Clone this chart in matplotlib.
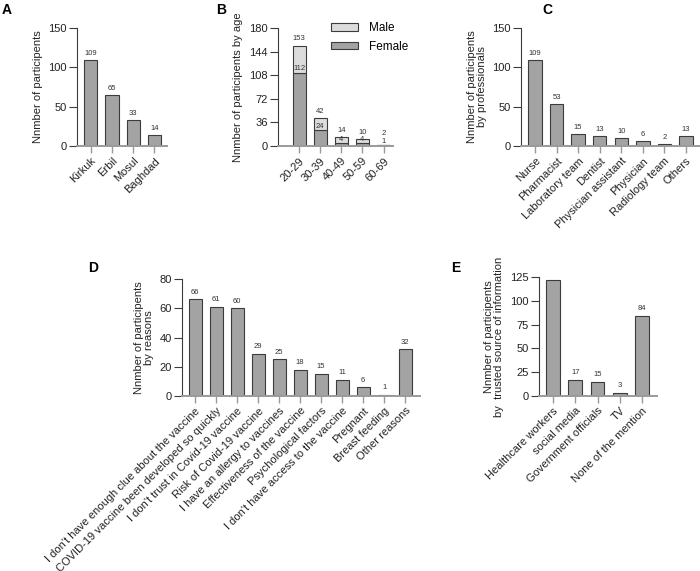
import matplotlib
matplotlib.use("Agg")
import matplotlib.pyplot as plt

plt.rcParams['font.family'] = ['Liberation Sans', 'DejaVu Sans']

# Panel A
cities = ["Kirkuk", "Erbil", "Mosul", "Baghdad"]
city_counts = [109, 65, 33, 14]

# Panel B
age_groups = ["20-29", "30-39", "40-49", "50-59", "60-69"]
age_female = [112, 24, 4, 4, 1]
age_total = [153, 42, 14, 10, 2]

# Panel C
professions = ["Nurse", "Pharmacist", "Laboratory team", "Dentist",
               "Physician assistant", "Physician", "Radiology team", "Others"]
prof_counts = [109, 53, 15, 13, 10, 6, 2, 13]

# Panel D
reasons = ["I don't have enough clue about the vaccine",
           "COVID-19 vaccine been developed so quickly",
           "I don't trust in Covid-19 vaccine",
           "Risk of Covid-19 vaccine",
           "I have an allergy to vaccines",
           "Effectiveness of the vaccine",
           "Psychological factors",
           "I don't have access to the vaccine",
           "Pregnant", "Breast feeding", "Other reasons"]
reason_counts = [66, 61, 60, 29, 25, 18, 15, 11, 6, 1, 32]

# Panel E
sources = ["Healthcare workers", "social media", "Government officials", "TV",
           "None of the mention"]
source_counts = [122, 17, 15, 3, 84]
source_labels = ["", "17", "15", "3", "84"]

W, H = 700, 571
fig = plt.figure(figsize=(7, 5.71), dpi=100)

BAR = "#a3a3a3"
EDGE = "#3c3c3c"
LIGHT = "#dcdcdc"
AX_DARK = "#3c3c3c"
AX_GRAY = "#9a9a9a"
TICK_FS = 8
VAL_FS = 5.5


def mkax(x0, x1, ytop, ybot):
    return fig.add_axes([x0 / W, (H - ybot) / H, (x1 - x0) / W, (ybot - ytop) / H])


def style(ax, labels, yticks, ylabel, xlim):
    ax.set_xlim(*xlim)
    ax.set_ylim(yticks[0], yticks[-1])
    ax.set_yticks(yticks)
    ax.set_xticks(range(len(labels)))
    ax.set_xticklabels(labels, rotation=45, ha='right', rotation_mode='anchor',
                       fontsize=TICK_FS, color='#222222')
    ax.tick_params(axis='y', labelsize=TICK_FS, colors=AX_DARK, length=6, width=0.8,
                   labelcolor='#222222', pad=1.5)
    ax.tick_params(axis='x', colors=AX_GRAY, length=5, width=1.0, pad=2,
                   labelcolor='#222222')
    for s in ('top', 'right'):
        ax.spines[s].set_visible(False)
    ax.spines['left'].set_color(AX_DARK)
    ax.spines['left'].set_linewidth(0.8)
    ax.spines['bottom'].set_color(AX_GRAY)
    ax.spines['bottom'].set_linewidth(1.4)
    ax.set_ylabel(ylabel, fontsize=TICK_FS, color='#222222', labelpad=4,
                  linespacing=1.0)
    ax.patch.set_alpha(0)


def labels_above(ax, xs, ys, texts):
    for x, y, t in zip(xs, ys, texts):
        ax.text(x, y, t, ha='center', va='bottom', fontsize=VAL_FS, color='#333333')


# A
axA = mkax(77, 167, 28, 146)
xs = range(len(cities))
axA.bar(xs, city_counts, width=0.62, color=BAR, edgecolor=EDGE, linewidth=0.8)
style(axA, cities, [0, 50, 100, 150], "Nnmber of participents", (-0.65, 3.6))
labels_above(axA, xs, [v + 4 for v in city_counts], [str(v) for v in city_counts])

# B
axB = mkax(278, 393, 28, 146)
xs = range(len(age_groups))
male = [t - f for t, f in zip(age_total, age_female)]
axB.bar(xs, age_female, width=0.62, color=BAR, edgecolor=EDGE, linewidth=0.8, label="Female")
axB.bar(xs, male, bottom=age_female, width=0.62, color=LIGHT, edgecolor=EDGE,
        linewidth=0.8, label="Male")
style(axB, age_groups, [0, 36, 72, 108, 144, 180], "Nnmber of participents by age", (-1.0, 4.45))
labels_above(axB, xs, [max(t + 5, f + 12) for t, f in zip(age_total, age_female)],
             [str(v) for v in age_total])
labels_above(axB, xs, [f + 0.3 for f in age_female], [str(v) for v in age_female])
handles, labs = axB.get_legend_handles_labels()
axB.legend(handles[::-1], labs[::-1], loc='upper left', bbox_to_anchor=(0.42, 1.09),
           frameon=False, fontsize=8.5, handlelength=2.3, handleheight=0.6,
           labelspacing=0.55, handletextpad=0.9, borderaxespad=0)

# C
axC = mkax(521, 700, 28, 146)
xs = range(len(professions))
axC.bar(xs, prof_counts, width=0.62, color=BAR, edgecolor=EDGE, linewidth=0.8)
style(axC, professions, [0, 50, 100, 150],
      "Nnmber of participents\nby professionals", (-0.65, 7.65))
labels_above(axC, xs, [v + 4 for v in prof_counts], [str(v) for v in prof_counts])

# D
axD = mkax(182, 420, 279, 396)
xs = range(len(reasons))
axD.bar(xs, reason_counts, width=0.62, color=BAR, edgecolor=EDGE, linewidth=0.8)
style(axD, reasons, [0, 20, 40, 60, 80],
      "Nnmber of participents\nby reasons", (-0.62, 10.7))
labels_above(axD, xs, [v + 2.5 for v in reason_counts], [str(v) for v in reason_counts])

# E
axE = mkax(539, 657, 277, 396)
xs = range(len(sources))
axE.bar(xs, source_counts, width=0.62, color=BAR, edgecolor=EDGE, linewidth=0.8)
style(axE, sources, [0, 25, 50, 75, 100, 125],
      "Nnmber of participents\nby  trusted source of information", (-0.63, 4.67))
labels_above(axE, xs, [v + 4 for v in source_counts], source_labels)

# panel letters
for letter, x, y in [("A", 2, 10), ("B", 216, 10), ("C", 542, 10), ("D", 88, 268), ("E", 451, 268)]:
    fig.text(x / W, 1 - y / H, letter, fontsize=10, fontweight='bold', va='center', ha='left')

fig.savefig("out.png", dpi=100)
